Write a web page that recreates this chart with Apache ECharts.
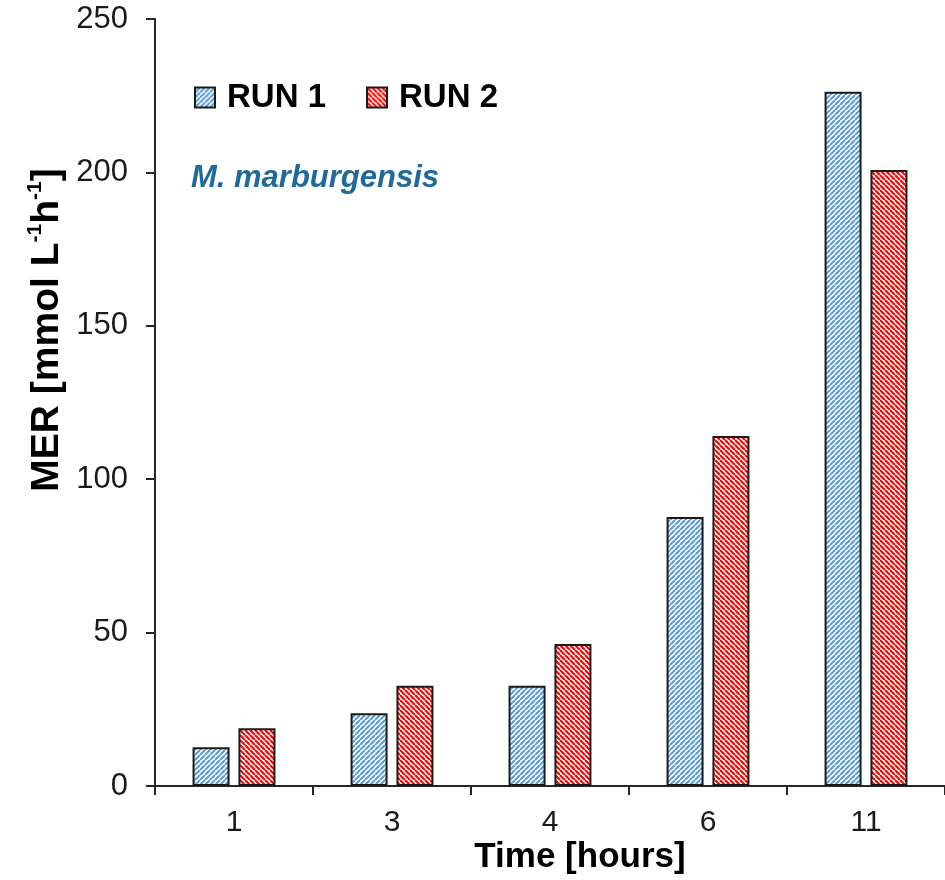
<!DOCTYPE html>
<html>
<head>
<meta charset="utf-8">
<script src="https://cdn.jsdelivr.net/npm/echarts@6/dist/echarts.min.js"></script>
<style>html,body{margin:0;padding:0;background:#fff}#c{width:945px;height:880px}</style>
</head>
<body>
<div id="c"></div>
<script>
const categories = ['1', '3', '4', '6', '11'];
const run1 = [12.6, 23.7, 32.7, 87.7, 226.3];
const run2 = [18.8, 32.7, 46.3, 114.1, 200.8];
const yTicks = [0, 50, 100, 150, 200, 250];

function stripes(color, dir) {
  const s = 5;
  const c = document.createElement('canvas');
  c.width = s; c.height = s;
  const g = c.getContext('2d');
  g.fillStyle = '#ffffff';
  g.fillRect(0, 0, s, s);
  g.strokeStyle = color;
  g.lineWidth = 2.1;
  g.beginPath();
  for (let k = -1; k <= 1; k++) {
    if (dir === '/') { g.moveTo(k * s, s); g.lineTo(k * s + s, 0); }
    else { g.moveTo(k * s, 0); g.lineTo(k * s + s, s); }
  }
  g.stroke();
  return { image: c, repeat: 'repeat' };
}

const chart = echarts.init(document.getElementById('c'), null, { renderer: 'canvas' });
const axisCol = '#262626';
chart.setOption({
  animation: false,
  backgroundColor: '#ffffff',
  grid: { left: 155, top: 19, width: 794, height: 767, containLabel: false },
  legend: {
    left: 189, top: 76,
    itemWidth: 20, itemHeight: 20, itemGap: 40,
    icon: 'rect',
    textStyle: { fontFamily: 'Liberation Sans, Arial', fontWeight: 'bold', fontSize: 33, color: '#000', padding: [0, 0, 0, 7] },
    data: ['RUN 1', 'RUN 2']
  },
  title: {
    text: 'M. marburgensis', left: 186, top: 158,
    textStyle: { fontFamily: 'Liberation Sans, Arial', fontStyle: 'italic', fontWeight: 'bold', fontSize: 31, color: '#1F6A9B' }
  },
  xAxis: {
    type: 'category', data: categories, boundaryGap: true,
    axisLine: { lineStyle: { color: axisCol, width: 2 } },
    axisTick: { show: true, alignWithLabel: false, length: 9, lineStyle: { color: axisCol, width: 2 } },
    axisLabel: { fontFamily: 'Liberation Sans, Arial', fontSize: 30, color: '#1a1a1a', margin: 22 },
    splitLine: { show: false }
  },
  yAxis: {
    type: 'value', min: yTicks[0], max: yTicks[yTicks.length - 1], interval: 50,
    axisLine: { show: true, lineStyle: { color: axisCol, width: 2 } },
    axisTick: { show: true, length: 9, lineStyle: { color: axisCol, width: 2 } },
    axisLabel: { fontFamily: 'Liberation Sans, Arial', fontSize: 31, color: '#1a1a1a', margin: 27 },
    splitLine: { show: false }
  },
  graphic: [
    {
      type: 'text', x: 46, y: 330, rotation: Math.PI / 2,
      style: {
        text: '{b|MER [mmol L}{s|-1}{b|h}{s|-1}{b|]}',
        align: 'center', verticalAlign: 'middle',
        rich: {
          b: { fontFamily: 'Liberation Sans, Arial', fontWeight: 'bold', fontSize: 39, fill: '#000', verticalAlign: 'bottom', lineHeight: 42 },
          s: { fontFamily: 'Liberation Sans, Arial', fontWeight: 'bold', fontSize: 21, fill: '#000', verticalAlign: 'top', lineHeight: 42 }
        }
      }
    },
    {
      type: 'text', x: 580, y: 857,
      style: {
        text: 'Time [hours]', align: 'center', verticalAlign: 'middle',
        fontFamily: 'Liberation Sans, Arial', fontWeight: 'bold', fontSize: 35, fill: '#000'
      }
    }
  ],
  series: [
    {
      name: 'RUN 1', type: 'bar', data: run1, barWidth: 37, barGap: '24%',
      itemStyle: { color: stripes('#5B9BD5', '/'), borderColor: '#1a1a1a', borderWidth: 2 }
    },
    {
      name: 'RUN 2', type: 'bar', data: run2, barWidth: 37, barGap: '24%',
      itemStyle: { color: stripes('#FF0000', '\\'), borderColor: '#1a1a1a', borderWidth: 2 }
    }
  ]
});
</script>
</body>
</html>
